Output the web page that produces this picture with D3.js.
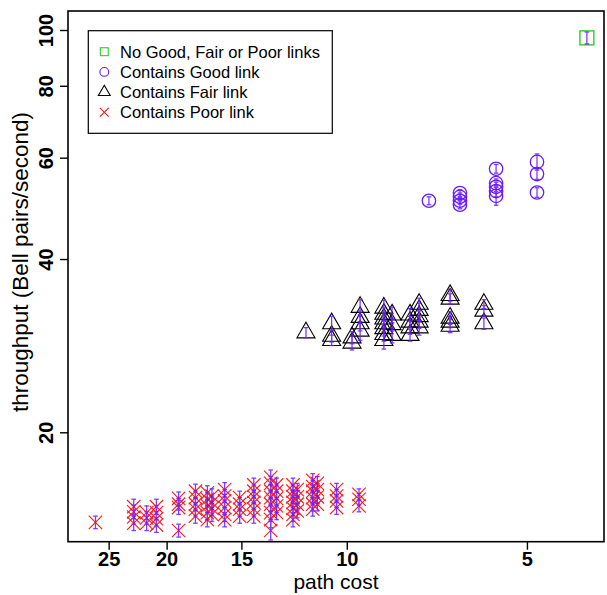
<!DOCTYPE html>
<html><head><meta charset="utf-8">
<script src="https://cdn.jsdelivr.net/npm/d3@7"></script>
<style>body{margin:0;background:#fff}svg{display:block;font-family:"Liberation Sans",Arial,sans-serif}</style>
</head><body><svg id="c" width="607" height="595"></svg>
<script>
// data: [path cost, throughput, error]
const noneLinks = [[3.97, 96.9, 2.3]];
const goodLinks = [
  [7.29, 50.5, 0.8],
  [6.47, 52.1, 0.7],[6.47, 51.3, 0.8],[6.47, 50.5, 0.7],[6.47, 49.7, 0.8],
  [5.63, 57.4, 1.0],[5.63, 54.2, 0.9],[5.63, 53.4, 1.0],[5.63, 52.5, 1.2],[5.63, 51.5, 1.9],
  [4.81, 59.0, 1.9],[4.81, 56.2, 1.2],[4.81, 52.2, 1.0]
];
const fairLinks = [
  [11.7, 29.8, 0.6],
  [10.6, 30.9, 0.9],[10.6, 29.4, 0.7],[10.6, 28.9, 0.6],
  [9.8, 29.2, 0.7],[9.8, 28.6, 0.8],
  [9.5, 33.0, 1.0],[9.5, 31.7, 0.8],[9.5, 30.9, 0.9],[9.5, 30.0, 1.1],
  [8.67, 32.9, 1.0],[8.67, 32.1, 0.8],[8.67, 31.5, 0.9],[8.67, 30.9, 0.7],[8.67, 30.3, 0.9],[8.67, 29.6, 0.8],[8.67, 28.9, 1.0],
  [8.40, 32.0, 1.0],[8.40, 30.8, 0.8],[8.40, 29.5, 0.9],
  [7.84, 32.0, 0.8],[7.84, 31.1, 0.7],[7.84, 30.4, 0.8],[7.84, 29.5, 0.7],
  [7.57, 33.4, 0.8],[7.57, 32.6, 0.9],[7.57, 31.8, 0.7],[7.57, 31.1, 0.8],[7.57, 30.4, 0.9],
  [6.72, 34.6, 0.8],[6.72, 34.1, 0.7],[6.72, 31.6, 0.8],[6.72, 31.1, 0.7],[6.72, 30.6, 0.8],
  [5.90, 33.4, 0.6],[5.90, 32.5, 0.7],[5.90, 30.9, 0.7]
];
const poorLinks = [
  [26.3, 13.95, 0.35],
  [22.7, 14.85, 0.45],[22.7, 14.55, 0.4],[22.7, 14.25, 0.4],[22.7, 13.9, 0.4],
  [21.6, 14.5, 0.4],[21.6, 14.2, 0.35],[21.6, 13.9, 0.4],
  [20.8, 14.85, 0.45],[20.8, 14.5, 0.4],[20.8, 14.15, 0.4],[20.8, 13.8, 0.4],
  [19.1, 15.35, 0.4],[19.1, 15.0, 0.35],[19.1, 14.8, 0.4],[19.1, 13.5, 0.35],
  [17.9, 15.8, 0.45],[17.9, 15.4, 0.4],[17.9, 15.0, 0.4],[17.9, 14.7, 0.4],[17.9, 14.3, 0.4],
  [17.1, 15.7, 0.45],[17.1, 15.3, 0.4],[17.1, 14.9, 0.4],[17.1, 14.5, 0.4],[17.1, 14.1, 0.4],
  [16.8, 15.5, 0.45],[16.8, 15.1, 0.4],[16.8, 14.75, 0.4],[16.8, 14.4, 0.4],
  [16.0, 15.9, 0.45],[16.0, 15.5, 0.4],[16.0, 15.2, 0.4],[16.0, 14.8, 0.4],[16.0, 14.4, 0.4],[16.0, 14.1, 0.4],
  [15.1, 15.4, 0.4],[15.1, 15.0, 0.4],[15.1, 14.7, 0.4],[15.1, 14.3, 0.4],
  [14.3, 16.2, 0.45],[14.3, 15.8, 0.4],[14.3, 15.45, 0.4],[14.3, 15.1, 0.4],[14.3, 14.7, 0.4],[14.3, 14.3, 0.4],
  [13.4, 16.7, 0.5],[13.4, 16.3, 0.45],[13.4, 15.8, 0.45],[13.4, 15.4, 0.4],[13.4, 15.0, 0.4],[13.4, 14.5, 0.4],[13.4, 14.1, 0.45],[13.4, 13.5, 0.5],
  [13.1, 16.2, 0.45],[13.1, 15.8, 0.4],[13.1, 15.35, 0.4],[13.1, 14.9, 0.4],[13.1, 14.5, 0.4],
  [12.3, 16.2, 0.45],[12.3, 15.8, 0.4],[12.3, 15.45, 0.4],[12.3, 15.1, 0.4],[12.3, 14.75, 0.4],[12.3, 14.4, 0.4],[12.3, 14.1, 0.4],
  [12.1, 15.9, 0.4],[12.1, 15.45, 0.4],[12.1, 15.0, 0.4],[12.1, 14.6, 0.4],
  [11.4, 16.5, 0.45],[11.4, 16.1, 0.4],[11.4, 15.8, 0.4],[11.4, 15.4, 0.4],[11.4, 15.0, 0.4],[11.4, 14.7, 0.4],
  [11.2, 16.3, 0.45],[11.2, 15.9, 0.4],[11.2, 15.45, 0.4],[11.2, 15.0, 0.4],
  [10.4, 15.9, 0.4],[10.4, 15.5, 0.4],[10.4, 15.2, 0.4],[10.4, 14.8, 0.4],
  [9.54, 15.6, 0.35],[9.54, 15.3, 0.35],[9.54, 14.9, 0.35]
];
const xTicks = [25, 20, 15, 10, 5];
const yTicks = [20, 40, 60, 80, 100];
const legendLabels = ["No Good, Fair or Poor links", "Contains Good link", "Contains Fair link", "Contains Poor link"];

const svg = d3.select("#c");
const L = 68, R = 604, T = 11, B = 541.7;
const x = d3.scaleLog().domain([29.23, 3.717]).range([L, R]);
const y = d3.scaleLog().domain([12.91, 107.9]).range([B, T]);

const purple = "#6a1aff", red = "#ff1a1a", green = "#2ecc2e";
const RAD = 6.7;

function marker(g, type, cx, cy, r, color, sw) {
  if (type === "square") {
    const h = 1.04 * r;
    g.append("rect").attr("x", cx - h).attr("y", cy - h).attr("width", 2*h).attr("height", 2*h)
      .attr("fill", "none").attr("stroke", color).attr("stroke-width", sw);
  } else if (type === "circle") {
    g.append("circle").attr("cx", cx).attr("cy", cy).attr("r", r)
      .attr("fill", "none").attr("stroke", color).attr("stroke-width", sw);
  } else if (type === "tri") {
    const a = 1.555*r, b = 0.778*r, w = 1.347*r;
    g.append("path").attr("d", `M${cx},${cy-a}L${cx+w},${cy+b}L${cx-w},${cy+b}Z`)
      .attr("fill", "none").attr("stroke", color).attr("stroke-width", sw);
  } else {
    g.append("path").attr("d", `M${cx-r},${cy-r}L${cx+r},${cy+r}M${cx-r},${cy+r}L${cx+r},${cy-r}`)
      .attr("fill", "none").attr("stroke", color).attr("stroke-width", sw);
  }
}

const groups = [
  {data: poorLinks, type: "x", color: red, sw: 1.1},
  {data: fairLinks, type: "tri", color: "#000", sw: 1.1},
  {data: goodLinks, type: "circle", color: purple, sw: 1.3},
  {data: noneLinks, type: "square", color: green, sw: 1.4}
];
const plot = svg.append("g");
groups.forEach(gr => {
  const g = plot.append("g");
  gr.data.forEach(d => marker(g, gr.type, x(d[0]), y(d[1]), RAD, gr.color, gr.sw));
  const e = plot.append("g").attr("stroke", purple).attr("stroke-width", 1.3).attr("opacity", 0.85);
  gr.data.forEach(d => {
    const cx = x(d[0]), y1 = y(d[1] + d[2]), y2 = y(d[1] - d[2]);
    e.append("line").attr("x1", cx).attr("x2", cx).attr("y1", y1).attr("y2", y2);
    e.append("line").attr("x1", cx-2.3).attr("x2", cx+2.3).attr("y1", y1).attr("y2", y1);
    e.append("line").attr("x1", cx-2.3).attr("x2", cx+2.3).attr("y1", y2).attr("y2", y2);
  });
});

// frame
svg.append("rect").attr("x", L).attr("y", T).attr("width", R-L).attr("height", B-T)
  .attr("fill", "none").attr("stroke", "#000").attr("stroke-width", 1.6);

// axes
const xa = svg.append("g").attr("transform", `translate(0,${B})`)
  .call(d3.axisBottom(x).tickValues(xTicks).tickFormat(d3.format("d")).tickSize(8).tickPadding(2));
xa.select(".domain").remove();
xa.selectAll("line").attr("stroke-width", 1.4);
xa.selectAll("text").attr("font-size", 20).attr("font-weight", "bold").attr("font-family", "Liberation Sans, Arial, sans-serif").attr("fill", "#000");

const ya = svg.append("g").attr("transform", `translate(${L},0)`)
  .call(d3.axisLeft(y).tickValues(yTicks).tickFormat(d3.format("d")).tickSize(8));
ya.select(".domain").remove();
ya.selectAll("line").attr("stroke-width", 1.4);
ya.selectAll("text").attr("font-size", 20).attr("font-weight", "bold").attr("font-family", "Liberation Sans, Arial, sans-serif").attr("fill", "#000")
  .attr("transform", "rotate(-90)").attr("x", 0).attr("y", -15).attr("dy", 0).attr("text-anchor", "middle");

svg.append("text").attr("x", (L+R)/2).attr("y", 589).attr("text-anchor", "middle")
  .attr("font-size", 21).text("path cost");
svg.append("text").attr("transform", `translate(28,262) rotate(-90)`).attr("text-anchor", "middle")
  .attr("font-size", 22.5).text("throughput (Bell pairs/second)");

// legend
const lg = svg.append("g");
lg.append("rect").attr("x", 88.3).attr("y", 30.7).attr("width", 244).attr("height", 102.6)
  .attr("fill", "#fff").attr("stroke", "#000").attr("stroke-width", 1.2);
const lt = ["square", "circle", "tri", "x"], lc = [green, purple, "#000", red];
legendLabels.forEach((t, i) => {
  const cy = 51.7 + i * 20.2;
  marker(lg, lt[i], 104.3, cy, i === 0 ? 3.8 : 4.4, lc[i], 1.1);
  lg.append("text").attr("x", 120).attr("y", cy + 6).attr("font-size", 16.5).text(t);
});
</script></body></html>
